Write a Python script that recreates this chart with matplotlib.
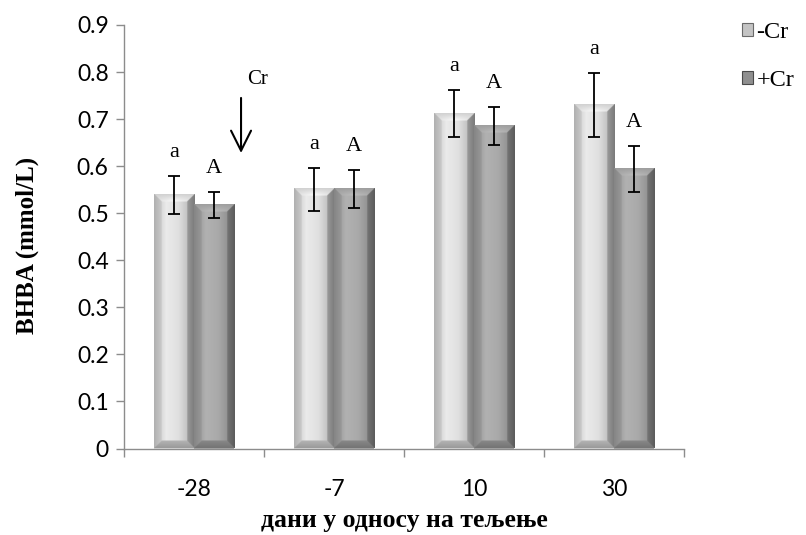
import numpy as np
import matplotlib
matplotlib.use("Agg")
import matplotlib.pyplot as plt
from matplotlib.patches import Patch

# Days relative to calving and BHBA concentrations (mmol/L)
days = ["-28", "-7", "10", "30"]
series_labels = ["-Cr", "+Cr"]
bhba_minus_cr = [0.539, 0.551, 0.711, 0.730]
sd_minus_cr = [0.040, 0.046, 0.050, 0.067]
bhba_plus_cr = [0.517, 0.551, 0.686, 0.594]
sd_plus_cr = [0.028, 0.040, 0.040, 0.049]
letters_minus_cr = ["a", "a", "a", "a"]
letters_plus_cr = ["A", "A", "A", "A"]
y_ticks = [0, 0.1, 0.2, 0.3, 0.4, 0.5, 0.6, 0.7, 0.8, 0.9]

SERIF = "Liberation Serif"
SANS = "Lato"
AXIS_GREY = "#8c8c8c"
BASE_COLORS = [np.array([0.86, 0.86, 0.86]), np.array([0.65, 0.65, 0.65])]

W, H = 806, 535
fig = plt.figure(figsize=(W / 100, H / 100), dpi=100)
ax = fig.add_axes([124 / W, 1 - 448.5 / H, 560 / W, 423.5 / H])
ax.set_xlim(-0.5, len(days) - 0.5)
ax.set_ylim(0, 0.9)


def bevel_image(base, w_px, h_px, bevel=7.5):
    """RGB array imitating a bevelled column with a soft horizontal sheen."""
    nx = max(int(round(w_px)) * 2, 4)
    ny = max(int(round(h_px)) * 2, 4)
    bev = bevel * 2
    X, Y = np.meshgrid(np.arange(nx) + 0.5, np.arange(ny) + 0.5)
    t = X / nx
    shade = np.interp(t, [0, 0.06, 0.3, 0.6, 0.88, 0.95, 1.0],
                      [0.78, 0.9, 1.07, 1.02, 0.85, 0.62, 0.42])
    dist = np.stack([X, nx - X, Y, ny - Y])
    k = dist.argmin(0)
    inside = dist.min(0) < bev
    frac = np.clip(dist.min(0) / bev, 0, 1)
    left = 0.80 + 0.12 * frac
    right = 0.55 + 0.15 * frac
    top = 0.95 + 0.2 * frac * (1 - np.abs(t - 0.5) * 1.4)
    bottom = 0.70 + 0.12 * frac
    shade = np.where(inside & (k == 0), left, shade)
    shade = np.where(inside & (k == 1), right, shade)
    shade = np.where(inside & (k == 2), top, shade)
    shade = np.where(inside & (k == 3), bottom, shade)
    return np.clip(base[None, None, :] * shade[..., None], 0, 1)


x = np.arange(len(days))
width = 0.286
groups = [
    (bhba_minus_cr, sd_minus_cr, letters_minus_cr, -width / 2),
    (bhba_plus_cr, sd_plus_cr, letters_plus_cr, width / 2),
]

for si, (vals, sds, letters, off) in enumerate(groups):
    bars = ax.bar(x + off, vals, width=width, color=BASE_COLORS[si],
                  edgecolor="none", zorder=2)
    for rect in bars:
        x0, y0 = rect.get_x(), rect.get_y()
        x1, y1 = x0 + rect.get_width(), y0 + rect.get_height()
        p0 = ax.transData.transform((x0, y0))
        p1 = ax.transData.transform((x1, y1))
        img = bevel_image(BASE_COLORS[si], p1[0] - p0[0], p1[1] - p0[1])
        ax.imshow(img, extent=(x0, x1, y0, y1), aspect="auto",
                  interpolation="bilinear", zorder=3)
    ax.errorbar(x + off, vals, yerr=sds, fmt="none", ecolor="black",
                elinewidth=1.3, capsize=4.2, capthick=1.3, zorder=4)
    for xi, v, s, lab in zip(x + off, vals, sds, letters):
        ax.text(xi, v + s + 0.05, lab, ha="center", va="center",
                fontsize=16, family=SERIF, zorder=5)

ax.set_xlim(-0.5, len(days) - 0.5)
ax.set_ylim(0, 0.9)
ax.set_aspect("auto")

# Supplementation start marker
ax.annotate("", xy=(0.336, 0.628), xytext=(0.336, 0.745),
            arrowprops=dict(arrowstyle="->, head_length=0.48, head_width=0.24",
                            color="black", lw=1.5, mutation_scale=30,
                            shrinkA=0, shrinkB=0))
ax.text(0.455, 0.784, "Cr", ha="center", va="center", fontsize=15,
        family=SERIF)

# Axes styling
for side in ("top", "right"):
    ax.spines[side].set_visible(False)
for side in ("left", "bottom"):
    ax.spines[side].set_color(AXIS_GREY)
    ax.spines[side].set_linewidth(1.0)

ax.set_yticks(y_ticks)
ax.set_yticklabels([f"{v:g}" for v in y_ticks])
ax.tick_params(axis="y", direction="out", length=6, width=1.0,
               color=AXIS_GREY, pad=5, labelsize=16.5)
ax.set_xticks(x)
ax.set_xticklabels(days)
ax.tick_params(axis="x", which="major", length=0, pad=22, labelsize=16.5)
ax.set_xticks(np.arange(len(days) + 1) - 0.5, minor=True)
ax.tick_params(axis="x", which="minor", direction="out", length=6,
               width=1.0, color=AXIS_GREY)
for lab in ax.get_xticklabels() + ax.get_yticklabels():
    lab.set_family(SANS)

ax.set_ylabel("BHBA (mmol/L)", family=SERIF, fontweight="bold", fontsize=18)
ax.yaxis.set_label_coords((27 - 124) / 560, (448.5 - 245) / 423.5)
ax.yaxis.label.set_verticalalignment("center")
ax.set_xlabel("дани у односу на тељење", family=SERIF, fontweight="bold",
              fontsize=18.5)
ax.xaxis.set_label_coords(0.5, (448.5 - 521) / 423.5)
ax.xaxis.label.set_verticalalignment("center")

handles = [
    Patch(facecolor="#c4c4c4", edgecolor="#6a6a6a", linewidth=0.8),
    Patch(facecolor="#8f8f8f", edgecolor="#4a4a4a", linewidth=0.8),
]
fig.legend(handles, series_labels, loc="upper left",
           bbox_to_anchor=(742 / W, 1 - 22 / H), frameon=False,
           prop={"family": SERIF, "size": 17.5}, handlelength=0.45,
           handleheight=0.45, handletextpad=0.15, labelspacing=1.1,
           borderpad=0, borderaxespad=0)

fig.savefig("out.png", dpi=100)
